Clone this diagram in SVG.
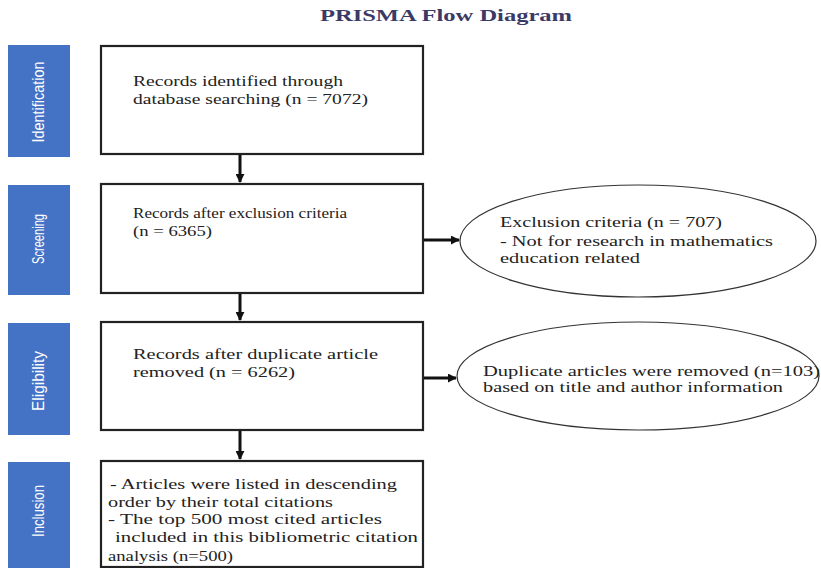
<svg xmlns="http://www.w3.org/2000/svg" width="821" height="568" viewBox="0 0 821 568">
<style>
.stage rect{fill:#4472C4;stroke:none}
.stage text{fill:#fff;font-family:"Liberation Sans Narrow","Liberation Sans",sans-serif;font-size:16px;text-anchor:middle;dominant-baseline:central}
.box{fill:#fff;stroke:#222;stroke-width:2.2}
.ell{fill:#fff;stroke:#333;stroke-width:1.2}
.t{fill:#222;font-family:"Liberation Serif",serif;font-size:15px}
.title{fill:#3b3a66;font-family:"Liberation Serif",serif;font-size:16px;font-weight:bold}
.conn line{stroke:#111;stroke-width:3}
</style>
<defs>
<marker id="ah" viewBox="0 0 10 10" refX="9" refY="5" markerWidth="3" markerHeight="3" orient="auto" markerUnits="strokeWidth">
<path d="M0,0 L10,5 L0,10 z" fill="#111"/>
</marker>
</defs>
<rect width="821" height="568" fill="#fff"/>
<text class="title" x="320" y="21" textLength="252" lengthAdjust="spacingAndGlyphs">PRISMA Flow Diagram</text>

<g id="stage-identification" class="stage">
<rect x="8" y="45" width="62" height="112"/>
<text transform="translate(38,102) rotate(-90)" textLength="81" lengthAdjust="spacingAndGlyphs">Identification</text>
</g>
<g id="stage-screening" class="stage">
<rect x="8" y="185" width="62" height="110"/>
<text transform="translate(38,239) rotate(-90)" textLength="50" lengthAdjust="spacingAndGlyphs">Screening</text>
</g>
<g id="stage-eligibility" class="stage">
<rect x="8" y="323" width="62" height="112"/>
<text transform="translate(38,381) rotate(-90)" textLength="60" lengthAdjust="spacingAndGlyphs">Eligibility</text>
</g>
<g id="stage-inclusion" class="stage">
<rect x="8" y="462" width="62" height="110"/>
<text transform="translate(38,511) rotate(-90)" textLength="52" lengthAdjust="spacingAndGlyphs">Inclusion</text>
</g>

<g id="node-identified">
<rect class="box" x="101" y="46" width="322" height="108"/>
<text class="t" x="133" y="86" textLength="210" lengthAdjust="spacingAndGlyphs">Records identified through</text>
<text class="t" x="133" y="104" textLength="235" lengthAdjust="spacingAndGlyphs">database searching (n = 7072)</text>
</g>
<g id="node-screened">
<rect class="box" x="101" y="184" width="322" height="109"/>
<text class="t" x="133" y="218" textLength="214" lengthAdjust="spacingAndGlyphs">Records after exclusion criteria</text>
<text class="t" x="133" y="236" textLength="79" lengthAdjust="spacingAndGlyphs">(n = 6365)</text>
</g>
<g id="node-excluded">
<ellipse class="ell" cx="638" cy="241" rx="178" ry="56"/>
<text class="t" x="500" y="227" textLength="222" lengthAdjust="spacingAndGlyphs">Exclusion criteria (n = 707)</text>
<text class="t" x="500" y="246" textLength="273" lengthAdjust="spacingAndGlyphs">- Not for research in mathematics</text>
<text class="t" x="500" y="263" textLength="140" lengthAdjust="spacingAndGlyphs">education related</text>
</g>
<g id="node-eligible">
<rect class="box" x="101" y="322" width="322" height="108"/>
<text class="t" x="133" y="359" textLength="245" lengthAdjust="spacingAndGlyphs">Records after duplicate article</text>
<text class="t" x="133" y="377" textLength="162" lengthAdjust="spacingAndGlyphs">removed (n = 6262)</text>
</g>
<g id="node-duplicates">
<ellipse class="ell" cx="638" cy="376" rx="181" ry="54"/>
<text class="t" x="483" y="376" textLength="337" lengthAdjust="spacingAndGlyphs">Duplicate articles were removed (n=103)</text>
<text class="t" x="483" y="392" textLength="300" lengthAdjust="spacingAndGlyphs">based on title and author information</text>
</g>
<g id="node-included">
<rect class="box" x="101" y="461" width="322" height="106"/>
<text class="t" x="110" y="489" textLength="287" lengthAdjust="spacingAndGlyphs">- Articles were listed in descending</text>
<text class="t" x="108" y="507" textLength="225" lengthAdjust="spacingAndGlyphs">order by their total citations</text>
<text class="t" x="108" y="524" textLength="274" lengthAdjust="spacingAndGlyphs">- The top 500 most cited articles</text>
<text class="t" x="115" y="542" textLength="303" lengthAdjust="spacingAndGlyphs">included in this bibliometric citation</text>
<text class="t" x="108" y="561" textLength="125" lengthAdjust="spacingAndGlyphs">analysis (n=500)</text>
</g>

<g id="connectors" class="conn">
<line x1="240" y1="155" x2="240" y2="182" marker-end="url(#ah)"/>
<line x1="240" y1="294" x2="240" y2="320" marker-end="url(#ah)"/>
<line x1="240" y1="431" x2="240" y2="459" marker-end="url(#ah)"/>
<line x1="424" y1="240" x2="459" y2="240" marker-end="url(#ah)"/>
<line x1="424" y1="378" x2="456" y2="378" marker-end="url(#ah)"/>
</g>
</svg>
